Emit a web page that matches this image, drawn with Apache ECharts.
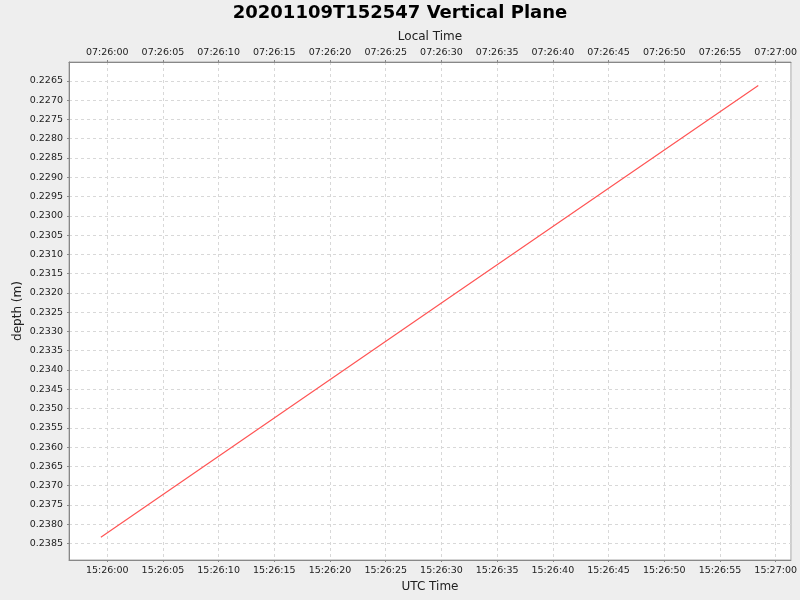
<!DOCTYPE html>
<html>
<head>
<meta charset="utf-8">
<script src="https://cdn.jsdelivr.net/npm/echarts@6/dist/echarts.min.js"></script>
<style>
html,body{margin:0;padding:0;background:#eeeeee;}
#chart{width:800px;height:600px;}
</style>
</head>
<body>
<div id="chart"></div>
<script>
// ---- data ----
const titleText = '20201109T152547 Vertical Plane';
const utcTimes = ['2020-11-09T15:25:59.43Z', '2020-11-09T15:26:30.00Z', '2020-11-09T15:26:58.44Z'];
const depths = [0.23834, 0.23226, 0.22662];
const xTickTimes = ['15:26:00','15:26:05','15:26:10','15:26:15','15:26:20','15:26:25','15:26:30',
                    '15:26:35','15:26:40','15:26:45','15:26:50','15:26:55','15:27:00'];
const yTicks = [0.2265,0.2270,0.2275,0.2280,0.2285,0.2290,0.2295,0.2300,0.2305,0.2310,0.2315,0.2320,
                0.2325,0.2330,0.2335,0.2340,0.2345,0.2350,0.2355,0.2360,0.2365,0.2370,0.2375,0.2380,0.2385];
const xRange = ['2020-11-09T15:25:56.57Z', '2020-11-09T15:27:01.37Z'];
const yRange = [0.22601, 0.23893];
const localOffsetHours = -8;

// ---- helpers ----
const day = '2020-11-09T';
const toMs = s => Date.parse(s);
const xTickVals = xTickTimes.map(t => toMs(day + t + 'Z'));
const pad = n => String(n).padStart(2, '0');
function fmt(ms, offH) {
  const d = new Date(Math.round(ms / 1000) * 1000 + offH * 3600000);
  return pad(d.getUTCHours()) + ':' + pad(d.getUTCMinutes()) + ':' + pad(d.getUTCSeconds());
}
const seriesData = utcTimes.map((t, i) => [toMs(t), depths[i]]);

const labelFont = {fontFamily: 'DejaVu Sans', fontSize: 9.5, color: '#222'};
const splitLine = {show: true, lineStyle: {color: '#d8d8d8', type: [3, 3], width: 1}};

function xAxis(pos, name, off) {
  return {
    type: 'value', position: pos,
    min: toMs(xRange[0]), max: toMs(xRange[1]),
    name: name, nameLocation: 'middle', nameGap: pos === 'top' ? 18 : 21,
    nameTextStyle: {fontFamily: 'DejaVu Sans', fontSize: 12, color: '#222'},
    axisLine: {show: true, lineStyle: {color: '#888', width: 1}},
    axisTick: {show: true, length: 2, customValues: xTickVals, lineStyle: {color: '#888'}},
    axisLabel: Object.assign({customValues: xTickVals, margin: pos === 'top' ? 4 : 6,
      formatter: v => fmt(v, off)}, labelFont),
    splitLine: pos === 'bottom' ? splitLine : {show: false}
  };
}

const chart = echarts.init(document.getElementById('chart'), null, {renderer: 'canvas'});
chart.setOption({
  backgroundColor: '#eeeeee',
  animation: false,
  title: {
    text: titleText, left: 'center', top: -1,
    textStyle: {fontFamily: 'DejaVu Sans', fontWeight: 'bold', fontSize: 18, color: '#000'}
  },
  grid: {left: 69, right: 8, top: 62, bottom: 40, show: true,
         backgroundColor: '#ffffff', borderColor: '#aaaaaa', borderWidth: 1},
  xAxis: [xAxis('bottom', 'UTC Time', 0), xAxis('top', 'Local Time', localOffsetHours)],
  yAxis: {
    type: 'value', inverse: true, min: yRange[0], max: yRange[1],
    name: 'depth (m)', nameLocation: 'middle', nameGap: 45, nameRotate: 90,
    nameMoveOverlap: false,
    nameTextStyle: {fontFamily: 'DejaVu Sans', fontSize: 12, color: '#222'},
    axisLine: {show: true, lineStyle: {color: '#888', width: 1}},
    axisTick: {show: true, length: 2, customValues: yTicks, lineStyle: {color: '#888'}},
    axisLabel: Object.assign({customValues: yTicks, margin: 6,
      formatter: v => v.toFixed(4)}, labelFont),
    splitLine: splitLine
  },
  series: [{
    type: 'line', data: seriesData, showSymbol: false, symbol: 'none',
    xAxisIndex: 0, yAxisIndex: 0,
    lineStyle: {color: '#ff5555', width: 1.2}
  }]
});
</script>
</body>
</html>
